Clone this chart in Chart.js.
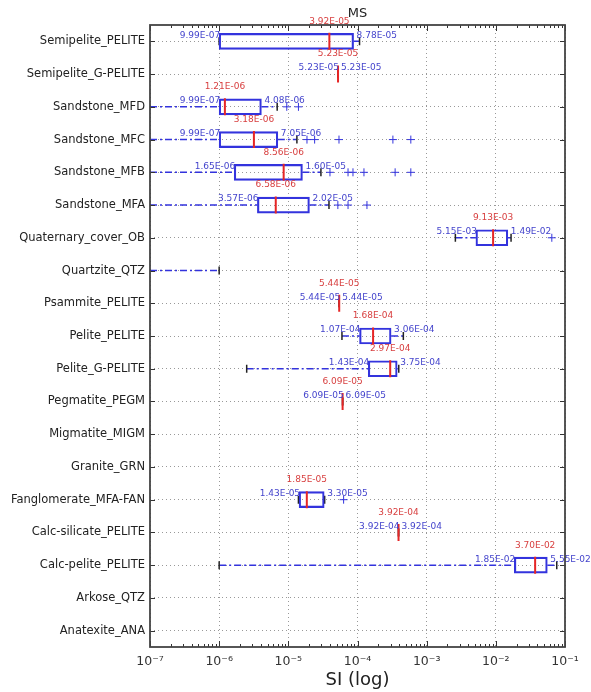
<!DOCTYPE html>
<html>
<head>
<meta charset="utf-8">
<script src="https://cdn.jsdelivr.net/npm/chart.js@4"></script>
<style>
  body { margin: 0; background: #fff; }
  canvas { display: block; }
</style>
</head>
<body>
<canvas id="msChart" width="591" height="692"></canvas>
<script>
// rock types, top to bottom
const rockTypes = ['Semipelite_PELITE', 'Semipelite_G-PELITE', 'Sandstone_MFD', 'Sandstone_MFC',
    'Sandstone_MFB', 'Sandstone_MFA', 'Quaternary_cover_OB', 'Quartzite_QTZ', 'Psammite_PELITE',
    'Pelite_PELITE', 'Pelite_G-PELITE', 'Pegmatite_PEGM', 'Migmatite_MIGM', 'Granite_GRN',
    'Fanglomerate_MFA-FAN', 'Calc-silicate_PELITE', 'Calc-pelite_PELITE', 'Arkose_QTZ', 'Anatexite_ANA'];

// box stats (null = no data), 0 = below the axis
const q1Vals  = [9.99e-7, 5.23e-5, 9.99e-7, 9.99e-7, 1.65e-6, 3.57e-6, 5.15e-3, null, 5.44e-5, 1.07e-4, 1.43e-4, 6.09e-5, null, null, 1.43e-5, 3.92e-4, 1.85e-2, null, null];
const medVals = [3.92e-5, 5.23e-5, 1.21e-6, 3.18e-6, 8.56e-6, 6.58e-6, 9.13e-3, null, 5.44e-5, 1.68e-4, 2.97e-4, 6.09e-5, null, null, 1.85e-5, 3.92e-4, 3.70e-2, null, null];
const q3Vals  = [8.78e-5, 5.23e-5, 4.08e-6, 7.05e-6, 1.60e-5, 2.02e-5, 1.49e-2, null, 5.44e-5, 3.06e-4, 3.75e-4, 6.09e-5, null, null, 3.30e-5, 3.92e-4, 5.55e-2, null, null];
const whiskLo = [9.99e-7, 5.23e-5, 0, 0, 0, 0, 2.6e-3, 0, 5.44e-5, 5.96e-5, 2.5e-6, 6.09e-5, null, null, 1.40e-5, 3.92e-4, 1.0e-6, null, null];
const whiskHi = [1.07e-4, 5.23e-5, 6.9e-6, 1.33e-5, 2.96e-5, 3.87e-5, 1.66e-2, 1.0e-6, 5.44e-5, 4.6e-4, 3.95e-4, 6.09e-5, null, null, 3.35e-5, 3.92e-4, 7.6e-2, null, null];
const fliers = [
    [], [], [9.5e-6, 1.4e-5], [1.86e-5, 2.4e-5, 5.4e-5, 3.25e-4, 5.9e-4],
    [4.0e-5, 7.3e-5, 8.6e-5, 1.24e-4, 3.5e-4, 5.9e-4], [5.2e-5, 7.3e-5, 1.37e-4], [6.45e-2], [], [],
    [], [], [], [], [], [6.3e-5], [], [], [], []
];
const decades = [1e-7, 1e-6, 1e-5, 1e-4, 1e-3, 1e-2, 1e-1];

const xMin = 1e-7, xMax = 1e-1;
const BLUE = '#3333dd', RED = '#e62626', BLUE_TXT = '#4444cc', RED_TXT = '#d84040';
Chart.defaults.font.family = "'DejaVu Sans', sans-serif";

function fmtE(v) {
    const parts = v.toExponential(2).split('e');
    const e = parts[1];
    return parts[0] + 'E' + e[0] + e.slice(1).padStart(2, '0');
}
const supMap = {'-': '⁻', '0': '⁰', '1': '¹', '2': '²', '3': '³', '4': '⁴', '5': '⁵', '6': '⁶', '7': '⁷', '8': '⁸', '9': '⁹'};
function supPow(v) {
    const e = String(Math.round(Math.log10(v)));
    return '10' + e.split('').map(c => supMap[c]).join('');
}

// build datasets
const boxData = rockTypes.map((r, i) => q1Vals[i] == null ? null : [q1Vals[i], q3Vals[i]]);
const whiskerPts = [];
const capPts = [];
const medPts = [];
const flierPts = [];
rockTypes.forEach((r, i) => {
    if (whiskHi[i] != null) {
        const lo = whiskLo[i] > 0 ? whiskLo[i] : xMin;
        if (q1Vals[i] == null) {
            whiskerPts.push({x: lo, y: r}, {x: whiskHi[i], y: r}, {x: null, y: r});
        } else {
            if (lo < q1Vals[i]) whiskerPts.push({x: lo, y: r}, {x: q1Vals[i], y: r}, {x: null, y: r});
            if (whiskHi[i] > q3Vals[i]) whiskerPts.push({x: q3Vals[i], y: r}, {x: whiskHi[i], y: r}, {x: null, y: r});
        }
        if (whiskLo[i] > 0) capPts.push({x: whiskLo[i], y: r});
        capPts.push({x: whiskHi[i], y: r});
    }
    if (medVals[i] != null) medPts.push({x: medVals[i], y: r});
    fliers[i].forEach(v => flierPts.push({x: v, y: r}));
});

// labels, frame, ticks, title
const decorPlugin = {
    id: 'decor',
    afterDatasetsDraw(chart) {
        const {ctx, chartArea: a, scales: {x, y}} = chart;
        ctx.save();
        ctx.font = "9px 'DejaVu Sans'";
        ctx.textBaseline = 'middle';
        rockTypes.forEach((r, i) => {
            if (q1Vals[i] == null) return;
            const yc = y.getPixelForValue(i);
            ctx.fillStyle = BLUE_TXT;
            ctx.textAlign = 'right';
            ctx.fillText(fmtE(q1Vals[i]), x.getPixelForValue(q1Vals[i]) + 1, yc - 6);
            ctx.textAlign = 'left';
            ctx.fillText(fmtE(q3Vals[i]), x.getPixelForValue(q3Vals[i]) + 3, yc - 6);
            ctx.fillStyle = RED_TXT;
            ctx.textAlign = 'center';
            ctx.fillText(fmtE(medVals[i]), x.getPixelForValue(medVals[i]), yc - 20);
        });
        // tick marks pointing inward
        ctx.strokeStyle = '#333';
        ctx.lineWidth = 1;
        ctx.beginPath();
        decades.forEach(v => {
            const px = Math.round(x.getPixelForValue(v)) + 0.5;
            ctx.moveTo(px, a.bottom); ctx.lineTo(px, a.bottom - 6);
            ctx.moveTo(px, a.top); ctx.lineTo(px, a.top + 6);
        });
        for (let d = 0; d < decades.length - 1; d++) {
            for (let m = 2; m <= 9; m++) {
                const px = Math.round(x.getPixelForValue(m * decades[d])) + 0.5;
                ctx.moveTo(px, a.bottom); ctx.lineTo(px, a.bottom - 3);
                ctx.moveTo(px, a.top); ctx.lineTo(px, a.top + 3);
            }
        }
        rockTypes.forEach((r, i) => {
            const py = Math.round(y.getPixelForValue(i)) + 0.5;
            ctx.moveTo(a.left, py); ctx.lineTo(a.left + 5, py);
            ctx.moveTo(a.right, py); ctx.lineTo(a.right - 5, py);
        });
        ctx.stroke();
        // frame
        ctx.strokeStyle = '#444';
        ctx.lineWidth = 1.8;
        ctx.strokeRect(a.left, a.top, a.right - a.left, a.bottom - a.top);
        // title
        ctx.fillStyle = '#222';
        ctx.font = "13px 'DejaVu Sans'";
        ctx.textAlign = 'center';
        ctx.textBaseline = 'middle';
        ctx.fillText('MS', (a.left + a.right) / 2, 14);
        ctx.restore();
    }
};

const ctx = document.getElementById('msChart').getContext('2d');
const msChart = new Chart(ctx, {
    type: 'bar',
    data: {
        labels: rockTypes,
        datasets: [
            {
                type: 'scatter', data: flierPts, order: 1,
                pointStyle: 'cross', radius: 4, borderColor: BLUE, borderWidth: 1, backgroundColor: BLUE
            },
            {
                type: 'scatter', data: medPts, order: 2,
                pointStyle: 'line', rotation: 90, radius: 8.5, borderColor: RED, borderWidth: 2
            },
            {
                type: 'bar', data: boxData, order: 3,
                backgroundColor: 'rgba(0,0,0,0)', borderColor: BLUE, borderWidth: 1.5,
                borderSkipped: false, barThickness: 16
            },
            {
                type: 'scatter', data: capPts, order: 4,
                pointStyle: 'line', rotation: 90, radius: 4, borderColor: '#222', borderWidth: 1.5
            },
            {
                type: 'line', data: whiskerPts, order: 5,
                borderColor: BLUE, borderWidth: 1.5, borderDash: [7, 3, 2, 3],
                pointRadius: 0, spanGaps: false, fill: false
            }
        ]
    },
    options: {
        indexAxis: 'y',
        responsive: false,
        animation: false,
        layout: { padding: { top: 25, right: 26, left: 0, bottom: 0 } },
        plugins: { legend: { display: false }, tooltip: { enabled: false } },
        scales: {
            x: {
                type: 'logarithmic', min: xMin, max: xMax,
                afterFit(s) { s.height = 45; },
                afterBuildTicks(s) { s.ticks = decades.map(v => ({ value: v })); },
                ticks: {
                    callback: v => supPow(v), autoSkip: false, maxRotation: 0,
                    font: { size: 12.5 }, color: '#333', padding: 7
                },
                grid: { color: '#999', drawTicks: false },
                border: { display: false, dash: [1, 3] },
                title: { display: true, text: 'SI (log)', font: { size: 18 }, color: '#222', padding: { top: 0, bottom: 1 } }
            },
            y: {
                type: 'category', offset: true,
                afterFit(s) { s.width = 150; },
                ticks: { font: { size: 11.5 }, color: '#222', padding: 5, autoSkip: false },
                grid: { offset: false, color: '#999', drawTicks: false },
                border: { display: false, dash: [1, 3] }
            }
        }
    },
    plugins: [decorPlugin]
});
</script>
</body>
</html>
